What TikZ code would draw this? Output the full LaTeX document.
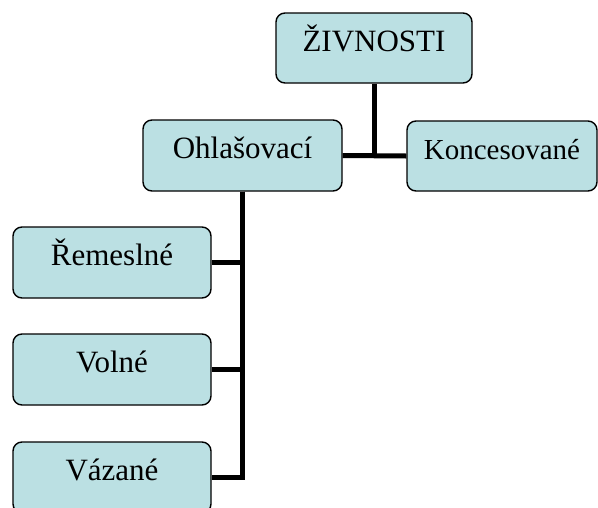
\documentclass[tikz,border=0pt]{standalone}
\usepackage{fontspec}
\setmainfont{Liberation Serif}
\usepackage{xcolor}
\usetikzlibrary{positioning}

\definecolor{boxfill}{HTML}{BBE0E3}

\tikzset{
  orgbox/.style={draw=black,line width=1.4pt,fill=boxfill,rounded corners=9pt,
    minimum width=198pt,minimum height=71pt,inner sep=0pt,
    font=\fontsize{31}{31}\selectfont,text height=22pt,text depth=16pt},
  conn/.style={line width=5pt,line cap=butt}
}

\begin{document}
\begin{tikzpicture}[x=1pt,y=-1pt]
  \useasboundingbox (0,0) rectangle (598,507);

  % Hlavni box
  \node[orgbox,minimum width=196pt,minimum height=70pt] (ziv) at (374,48) {ŽIVNOSTI};

  % Druha uroven
  \node[orgbox,minimum width=199pt] (ohl) at (242.5,155.5) {Ohlašovací};
  \node[orgbox,minimum width=190pt,minimum height=70pt,font=\fontsize{29}{29}\selectfont] (kon) at (502,156) {Koncesované};

  % Ohlasovaci zivnosti
  \node[orgbox] (rem) at (112,262.5) {Řemeslné};
  \node[orgbox] (vol) at (112,369.5) {Volné};
  \node[orgbox] (vaz) at (112,477.5) {Vázané};

  % Spojnice
  \draw[conn] (ohl.east) -- (kon.west);
  \draw[conn] (ziv.south) -- (ziv.south |- ohl.east);
  \draw[conn] (ohl.south) |- (rem.east);
  \draw[conn] (ohl.south) |- (vol.east);
  \draw[conn] (ohl.south) |- (vaz.east);
\end{tikzpicture}
\end{document}
